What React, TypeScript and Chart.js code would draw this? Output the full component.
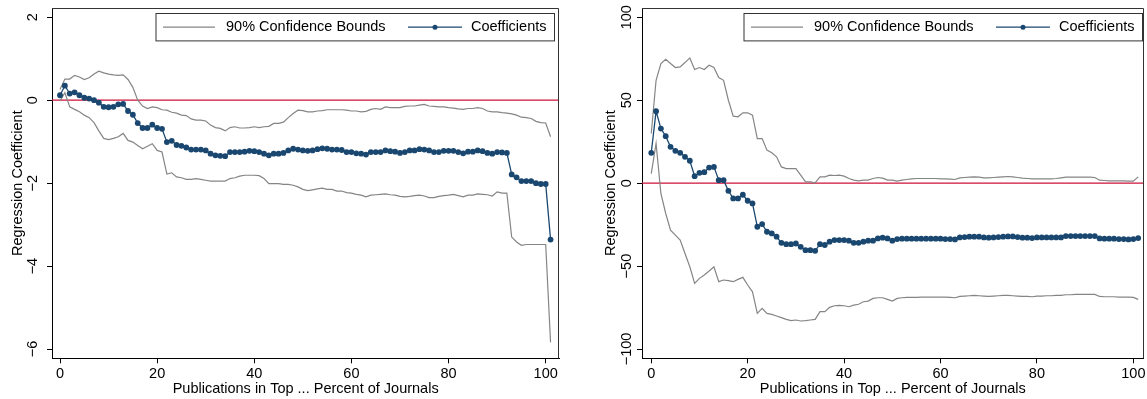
import React, { useEffect, useRef } from "react";
import { Chart, registerables } from "chart.js";

Chart.register(...registerables);

const FONT_FAMILY = "'Liberation Sans', Arial, Helvetica, sans-serif";
const TEXT_SIZE = 14.5;
const NAVY = "#1a476f";
const BOUND_GRAY = "#858585";
const ZERO_RED = "#cc1238";
const AXIS_BLACK = "#000000";
const FRAME_DARK = "#333333";

// Share of top journals counted (x positions of the estimates)
const pubPercent = [
  0, 1, 2, 3, 4, 5, 6, 7, 8, 9, 10, 11, 12, 13, 14, 15, 16, 17, 18, 19,
  20, 21, 22, 23, 24, 25, 26, 27, 28, 29, 30, 31, 32, 33, 34, 35, 36, 37, 38, 39,
  40, 41, 42, 43, 44, 45, 46, 47, 48, 49, 50, 51, 52, 53, 54, 55, 56, 57, 58, 59,
  60, 61, 62, 63, 64, 65, 66, 67, 68, 69, 70, 71, 72, 73, 74, 75, 76, 77, 78, 79,
  80, 81, 82, 83, 84, 85, 86, 87, 88, 89, 90, 91, 92, 93, 94, 95, 96, 97, 98, 99,
  100, 101,
];

const xTickValues = [0, 20, 40, 60, 80, 100];
const legendLabels = ["90% Confidence Bounds", "Coefficients"];
const xAxisTitle = "Publications in Top ... Percent of Journals";
const yAxisTitle = "Regression Coefficient";
const zeroLevel = 0;

// Left panel
const leftTickValues = [-6, -4, -2, 0, 2];
const leftCoef = [
  0.12, 0.35, 0.16, 0.19, 0.12, 0.06, 0.04, 0.0, -0.06, -0.16,
  -0.17, -0.16, -0.1, -0.09, -0.26, -0.35, -0.55, -0.67, -0.67, -0.59,
  -0.67, -0.69, -1.01, -0.98, -1.08, -1.1, -1.14, -1.19, -1.19, -1.19,
  -1.21, -1.29, -1.33, -1.34, -1.35, -1.25, -1.25, -1.25, -1.24, -1.22,
  -1.23, -1.25, -1.29, -1.33, -1.29, -1.29, -1.27, -1.21, -1.17, -1.19,
  -1.21, -1.22, -1.21, -1.18, -1.16, -1.17, -1.19, -1.19, -1.2, -1.25,
  -1.25, -1.28, -1.29, -1.31, -1.25, -1.25, -1.25, -1.21, -1.23, -1.24,
  -1.27, -1.25, -1.21, -1.21, -1.18, -1.19, -1.21, -1.25, -1.25, -1.22,
  -1.22, -1.22, -1.25, -1.28, -1.24, -1.24, -1.21, -1.23, -1.27, -1.29,
  -1.25, -1.26, -1.27, -1.79, -1.86, -1.95, -1.95, -1.95, -2.0, -2.02,
  -2.02, -3.36,
];
const leftUpper = [
  0.26, 0.51, 0.51, 0.6, 0.56, 0.5, 0.54, 0.63, 0.7, 0.66,
  0.63, 0.61, 0.6, 0.61, 0.5, 0.31, 0.0, -0.14, -0.2, -0.16,
  -0.18, -0.23, -0.24, -0.29, -0.31, -0.36, -0.37, -0.45, -0.48, -0.48,
  -0.5, -0.6, -0.66, -0.68, -0.74, -0.66, -0.64, -0.67, -0.67, -0.66,
  -0.64, -0.66, -0.64, -0.63, -0.56, -0.56, -0.53, -0.42, -0.32, -0.24,
  -0.25, -0.28, -0.28, -0.26, -0.25, -0.23, -0.23, -0.23, -0.23, -0.24,
  -0.26, -0.26, -0.28, -0.27, -0.22, -0.2, -0.22, -0.16, -0.18, -0.18,
  -0.18, -0.15, -0.14, -0.14, -0.12, -0.1, -0.14, -0.15, -0.16, -0.16,
  -0.18, -0.19, -0.21, -0.22, -0.2, -0.2, -0.18, -0.2, -0.26, -0.28,
  -0.28, -0.3, -0.31, -0.33, -0.36, -0.41, -0.42, -0.44, -0.51, -0.54,
  -0.55, -0.88,
];
const leftLower = [
  -0.02, 0.18, -0.16, -0.22, -0.28, -0.36, -0.42, -0.54, -0.74, -0.92,
  -0.95, -0.92, -0.88, -0.8, -0.97, -1.01, -1.09, -1.17, -1.11, -1.05,
  -1.21, -1.25, -1.78, -1.75, -1.85, -1.87, -1.91, -1.91, -1.89, -1.91,
  -1.93, -1.95, -1.95, -1.95, -1.95, -1.89, -1.87, -1.83, -1.81, -1.81,
  -1.81, -1.82, -1.89, -2.01, -2.01, -2.01, -2.03, -2.03, -2.05, -2.09,
  -2.15, -2.18, -2.16, -2.14, -2.12, -2.15, -2.15, -2.19, -2.19, -2.23,
  -2.24, -2.27, -2.29, -2.33, -2.29, -2.28, -2.27, -2.26, -2.28, -2.29,
  -2.32, -2.33, -2.32, -2.3, -2.29, -2.31, -2.35, -2.35, -2.32, -2.3,
  -2.29, -2.27, -2.3, -2.33, -2.29, -2.29, -2.26, -2.27, -2.28, -2.31,
  -2.21, -2.24, -2.24, -3.3, -3.42, -3.5, -3.48, -3.48, -3.48, -3.48,
  -3.48, -5.84,
];

// Right panel
const rightTickValues = [-100, -50, 0, 50, 100];
const rightCoef = [
  18.3, 43.4, 32.9, 28.3, 21.9, 19.5, 18.3, 15.9, 13.5, 4.2,
  6.2, 6.6, 9.4, 9.8, 1.8, 1.8, -4.6, -9.2, -9.2, -7.0,
  -10.6, -12.2, -26.3, -24.7, -29.3, -30.3, -32.3, -36.0, -36.8, -36.8,
  -36.4, -38.4, -40.4, -40.4, -40.8, -36.8, -37.3, -35.3, -34.3, -34.3,
  -34.3, -34.7, -36.0, -36.0, -35.3, -34.7, -34.7, -33.3, -32.9, -33.3,
  -34.7, -33.7, -33.5, -33.5, -33.5, -33.5, -33.5, -33.5, -33.5, -33.5,
  -33.5, -33.7, -33.7, -33.9, -32.7, -32.5, -32.3, -32.3, -32.3, -32.7,
  -32.9, -32.7, -32.5, -32.3, -32.1, -32.1, -32.5, -32.9, -32.9, -33.1,
  -32.7, -32.7, -32.7, -32.7, -32.7, -32.7, -31.9, -31.9, -31.9, -31.9,
  -31.9, -31.9, -31.9, -33.3, -33.5, -33.5, -33.5, -33.7, -33.7, -33.9,
  -33.7, -33.1,
];
const rightUpper = [
  29.9, 62.0, 72.1, 74.7, 72.1, 69.7, 70.1, 72.7, 75.5, 68.5,
  69.7, 68.5, 71.1, 69.7, 63.7, 62.0, 50.0, 40.4, 40.0, 42.4,
  42.4, 41.0, 26.9, 26.9, 19.9, 18.3, 15.9, 9.8, 8.8, 8.8,
  8.8, 4.8, 0.8, 0.8, 0.2, 3.8, 3.8, 4.8, 4.6, 4.8,
  4.2, 2.8, 1.8, 1.4, 1.8, 1.8, 2.8, 3.4, 3.0, 1.8,
  1.8, 1.2, 1.8, 2.2, 2.6, 2.8, 2.8, 2.8, 2.8, 2.8,
  2.6, 2.6, 2.4, 2.2, 3.2, 3.4, 3.6, 3.8, 3.6, 3.2,
  3.2, 3.4, 3.6, 3.8, 4.0, 3.8, 3.4, 3.0, 2.8, 2.6,
  2.6, 2.6, 2.6, 2.6, 2.8, 3.2, 3.6, 3.6, 3.6, 3.6,
  3.6, 3.6, 3.4, 1.8, 1.6, 1.4, 1.4, 1.4, 1.4, 1.2,
  1.2, 3.8,
];
const rightLower = [
  5.8, 23.9, -6.2, -18.3, -28.3, -31.3, -34.3, -42.4, -50.4, -60.4,
  -57.4, -55.4, -53.0, -50.4, -59.4, -58.4, -58.8, -59.4, -58.0, -56.8,
  -61.4, -65.5, -78.5, -75.5, -78.5, -79.1, -80.1, -81.1, -82.1, -82.9,
  -82.5, -83.1, -82.9, -82.5, -82.1, -77.5, -77.5, -74.9, -73.9, -73.7,
  -73.9, -74.5, -73.5, -73.0, -71.5, -71.1, -69.5, -69.1, -69.1, -70.1,
  -71.1, -69.5, -69.1, -68.9, -68.9, -68.9, -68.7, -68.7, -68.7, -68.7,
  -68.7, -68.7, -68.9, -69.1, -68.3, -68.1, -67.9, -67.7, -67.9, -68.1,
  -68.3, -68.1, -67.9, -67.7, -67.7, -67.9, -68.1, -68.3, -68.3, -68.5,
  -68.1, -68.1, -67.9, -67.9, -67.7, -67.7, -67.3, -67.3, -67.1, -67.1,
  -67.1, -67.1, -67.1, -68.3, -68.5, -68.5, -68.5, -68.7, -68.7, -68.7,
  -68.9, -70.1,
];

type PanelLayout = {
  left: number;
  width: number;
  axisWidth: number;
  padRight: number;
  xMin: number;
  xMax: number;
  yMin: number;
  yMax: number;
  tickBaseline: number;
  titlePad: number;
  legendInset: number;
};

const HEIGHT = 399;
const X_AXIS_HEIGHT = 40.7;
const LEGEND_W = 398.5;
const LEGEND_H = 27.4;

const leftLayout: PanelLayout = {
  left: 0,
  width: 573,
  axisWidth: 52,
  padRight: 13.7,
  xMin: -1.65,
  xMax: 102.8,
  yMin: -6.224,
  yMax: 2.224,
  tickBaseline: 37.3,
  titlePad: 9.3,
  legendInset: 4,
};

const rightLayout: PanelLayout = {
  left: 573,
  width: 574,
  axisWidth: 69,
  padRight: 1.5,
  xMin: -1.92,
  xMax: 102.15,
  yMin: -105.6,
  yMax: 105.6,
  tickBaseline: 57.7,
  titlePad: 29,
  legendInset: 0.5,
};

const fmtTick = (v: number) => (v < 0 ? "\u2212" + Math.abs(v) : String(v));

function makeDecor(lay: PanelLayout) {
  return {
    id: "panelDecor",
    afterDraw(chart: any) {
      const { ctx, chartArea: a, scales } = chart;
      const font = `${TEXT_SIZE}px ${FONT_FAMILY}`;
      ctx.save();

      // top and right edges of the plot region
      const top = Math.round(a.top) + 0.5;
      const right = Math.round(a.right) - 0.5;
      ctx.strokeStyle = FRAME_DARK;
      ctx.lineWidth = 1;
      ctx.beginPath();
      ctx.moveTo(a.left, top);
      ctx.lineTo(right, top);
      ctx.lineTo(right, a.bottom);
      ctx.stroke();

      ctx.font = font;
      ctx.fillStyle = "#000";

      // rotated y tick labels
      ctx.textAlign = "center";
      ctx.textBaseline = "alphabetic";
      for (const t of scales.y.ticks) {
        const py = scales.y.getPixelForValue(t.value);
        ctx.save();
        ctx.translate(lay.tickBaseline, py);
        ctx.rotate(-Math.PI / 2);
        ctx.fillText(fmtTick(t.value), 0, 0);
        ctx.restore();
      }

      // legend box
      const lr = Math.round(a.right - lay.legendInset) - 0.5;
      const L = lr - LEGEND_W;
      const T = Math.round(a.top + 5.3) + 0.5;
      ctx.fillStyle = "#fff";
      ctx.fillRect(L, T, LEGEND_W, LEGEND_H);
      ctx.strokeStyle = FRAME_DARK;
      ctx.lineWidth = 1;
      ctx.strokeRect(L, T, LEGEND_W, LEGEND_H);
      const mid = T + LEGEND_H / 2;

      ctx.strokeStyle = BOUND_GRAY;
      ctx.lineWidth = 1.2;
      ctx.beginPath();
      ctx.moveTo(L + 7, mid);
      ctx.lineTo(L + 59, mid);
      ctx.stroke();

      ctx.strokeStyle = NAVY;
      ctx.lineWidth = 1.3;
      ctx.beginPath();
      ctx.moveTo(L + 252, mid);
      ctx.lineTo(L + 306, mid);
      ctx.stroke();
      ctx.fillStyle = NAVY;
      ctx.beginPath();
      ctx.arc(L + 279, mid, 2.5, 0, Math.PI * 2);
      ctx.fill();

      ctx.fillStyle = "#000";
      ctx.textAlign = "left";
      ctx.textBaseline = "middle";
      ctx.fillText(legendLabels[0], L + 70, mid);
      ctx.fillText(legendLabels[1], L + 315, mid);
      ctx.restore();
    },
  };
}

function Panel(props: {
  coef: number[];
  upper: number[];
  lower: number[];
  yTicks: number[];
  lay: PanelLayout;
}) {
  const ref = useRef<HTMLCanvasElement | null>(null);
  const { coef, upper, lower, yTicks, lay } = props;

  useEffect(() => {
    if (!ref.current) return;
    const pts = (vals: number[]) => pubPercent.map((x, i) => ({ x, y: vals[i] }));
    const font = { family: FONT_FAMILY, size: TEXT_SIZE };
    const chart = new Chart(ref.current, {
      type: "line",
      data: {
        datasets: [
          {
            label: legendLabels[1],
            data: pts(coef),
            borderColor: NAVY,
            borderWidth: 1.3,
            pointRadius: 2.9,
            pointHoverRadius: 2.9,
            pointBackgroundColor: NAVY,
            pointBorderWidth: 0,
            fill: false,
            tension: 0,
          },
          {
            label: legendLabels[0],
            data: pts(upper),
            borderColor: BOUND_GRAY,
            borderWidth: 1.2,
            pointRadius: 0,
            fill: false,
            tension: 0,
          },
          {
            label: legendLabels[0] + " (lower)",
            data: pts(lower),
            borderColor: BOUND_GRAY,
            borderWidth: 1.2,
            pointRadius: 0,
            fill: false,
            tension: 0,
          },
          {
            // horizontal reference at zero across the whole plot width
            label: "zero",
            data: [
              { x: lay.xMin, y: zeroLevel },
              { x: lay.xMax, y: zeroLevel },
            ],
            borderColor: ZERO_RED,
            borderWidth: 1.3,
            pointRadius: 0,
            fill: false,
            tension: 0,
          },
        ],
      },
      options: {
        animation: false,
        responsive: false,
        maintainAspectRatio: false,
        devicePixelRatio: 1,
        events: [],
        layout: { padding: { top: 8, right: lay.padRight, left: 0, bottom: 0 } },
        plugins: { legend: { display: false }, tooltip: { enabled: false } },
        scales: {
          x: {
            type: "linear",
            position: "bottom",
            min: lay.xMin,
            max: lay.xMax,
            afterBuildTicks: (s: any) => {
              s.ticks = xTickValues.map((v) => ({ value: v }));
            },
            afterFit: (s: any) => {
              s.height = X_AXIS_HEIGHT;
            },
            grid: {
              drawOnChartArea: false,
              drawTicks: true,
              tickLength: 5,
              tickColor: AXIS_BLACK,
              tickWidth: 1,
            },
            border: { display: true, color: AXIS_BLACK, width: 1 },
            ticks: {
              font,
              color: "#000",
              padding: 1.5,
              maxRotation: 0,
              minRotation: 0,
              autoSkip: false,
            },
            title: {
              display: true,
              text: xAxisTitle,
              font,
              color: "#000",
              padding: { top: 0, bottom: 1.6 },
            },
          },
          y: {
            type: "linear",
            position: "left",
            min: lay.yMin,
            max: lay.yMax,
            afterBuildTicks: (s: any) => {
              s.ticks = yTicks.map((v) => ({ value: v }));
            },
            afterFit: (s: any) => {
              s.width = lay.axisWidth;
            },
            grid: {
              drawOnChartArea: false,
              drawTicks: true,
              tickLength: 5,
              tickColor: AXIS_BLACK,
              tickWidth: 1,
            },
            border: { display: true, color: AXIS_BLACK, width: 1 },
            ticks: { display: false },
            title: {
              display: true,
              text: yAxisTitle,
              font,
              color: "#000",
              padding: { top: lay.titlePad, bottom: 0 },
            },
          },
        },
      },
      plugins: [makeDecor(lay)],
    } as any);
    return () => chart.destroy();
  }, [coef, upper, lower, yTicks, lay]);

  return (
    <canvas
      ref={ref}
      width={lay.width}
      height={HEIGHT}
      style={{
        position: "absolute",
        left: lay.left,
        top: 0,
        width: lay.width,
        height: HEIGHT,
        display: "block",
      }}
    />
  );
}

export default function App() {
  return (
    <div
      style={{
        position: "fixed",
        left: 0,
        top: 0,
        width: 1147,
        height: HEIGHT,
        background: "#fff",
        overflow: "hidden",
      }}
    >
      <Panel coef={leftCoef} upper={leftUpper} lower={leftLower} yTicks={leftTickValues} lay={leftLayout} />
      <Panel coef={rightCoef} upper={rightUpper} lower={rightLower} yTicks={rightTickValues} lay={rightLayout} />
    </div>
  );
}
